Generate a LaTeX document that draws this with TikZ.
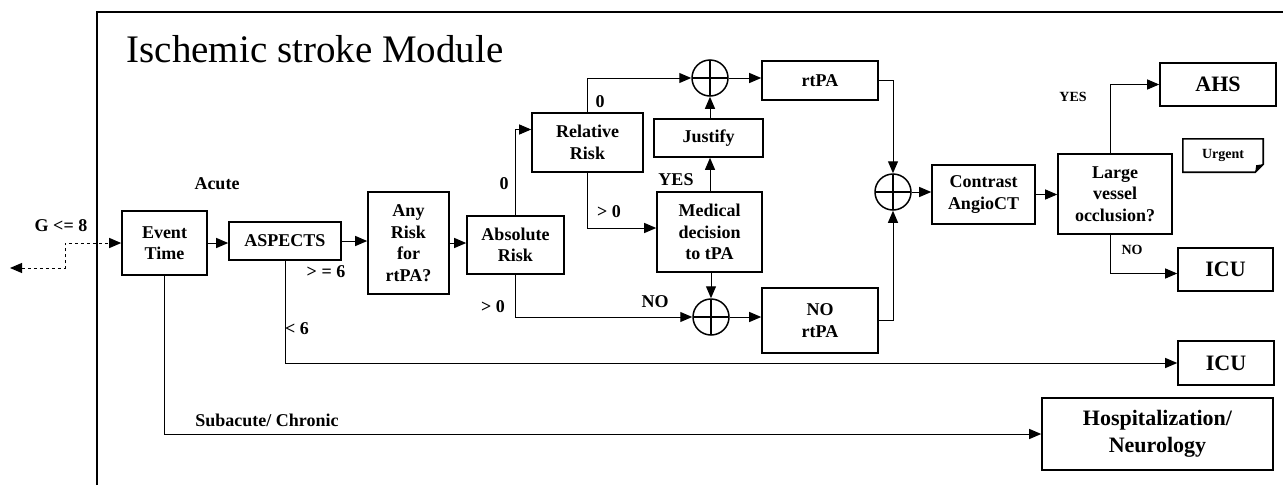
\documentclass[tikz,border=0pt]{standalone}
\usepackage{fontspec}
\setmainfont{Liberation Serif}
\usetikzlibrary{positioning,arrows.meta}

\begin{document}
\begin{tikzpicture}[x=1pt,y=-1pt,>={Triangle[length=12pt,width=10pt]},
  box/.style={draw,line width=1.6pt,align=center,inner sep=1pt,font=\bfseries\fontsize{18}{21.5}\selectfont},
  bigbox/.style={box,font=\bfseries\fontsize{22}{27}\selectfont},
  lbl/.style={font=\bfseries\fontsize{18}{21}\selectfont},
  sml/.style={font=\bfseries\fontsize{14}{16}\selectfont},
  sum/.style={draw,circle,line width=1.5pt,minimum size=36pt,inner sep=0pt,
    path picture={\draw[line width=1.5pt] (path picture bounding box.north) -- (path picture bounding box.south)
      (path picture bounding box.west) -- (path picture bounding box.east);}},
  link/.style={->,line width=1pt}]
\useasboundingbox (0,0) rectangle (1283,485);
\draw[line width=1.6pt] (97,485) -- (97,12) -- (1283,12);
\node (title) [anchor=base west,font=\fontsize{39}{40}\selectfont] at (123,62) {Ischemic stroke Module};

\node (evt) [box,minimum width=85pt,minimum height=64pt] at (164.5,243) {Event\\Time};
\node (asp) [box,minimum width=112pt,minimum height=38pt] at (285,241) {ASPECTS};
\node (anyr) [box,minimum width=81pt,minimum height=102pt] at (408.5,243) {Any\\Risk\\for\\rtPA?};
\node (absr) [box,minimum width=97pt,minimum height=58pt] at (515.5,245) {Absolute\\Risk};
\node (relr) [box,minimum width=111pt,minimum height=59pt] at (587.5,142.5) {Relative\\Risk};
\node (just) [box,minimum width=109pt,minimum height=38pt] at (708.5,138) {Justify};
\node (med) [box,minimum width=105pt,minimum height=80pt] at (709.5,232) {Medical\\decision\\to tPA};
\node (ptop) [sum] at (710,78) {};
\node (pbot) [sum] at (711,317) {};
\node (rtpa) [box,minimum width=116pt,minimum height=39pt] at (820,80.5) {rtPA};
\node (nortpa) [box,minimum width=116pt,minimum height=65pt] at (820,320.5) {NO\\rtPA};
\node (pright) [sum] at (893,192) {};
\node (cta) [box,minimum width=103pt,minimum height=59pt] at (983.5,194.5) {Contrast\\AngioCT};
\node (lvo) [box,minimum width=114pt,minimum height=80pt] at (1115,194) {Large\\vessel\\occlusion?};
\node (ahs) [bigbox,minimum width=116pt,minimum height=43pt] at (1218,84.5) {AHS};
\node (urg) [sml,minimum width=80pt,minimum height=33pt] at (1223,155.5) {Urgent};
\node (icua) [bigbox,minimum width=95pt,minimum height=43pt] at (1225.5,269.5) {ICU};
\node (icub) [bigbox,minimum width=96pt,minimum height=44pt] at (1226,363) {ICU};
\node (hosp) [bigbox,minimum width=231pt,minimum height=72pt] at (1157.5,434) {Hospitalization/\\Neurology};

\draw[line width=1.6pt] (urg.north west) -- (urg.north east) -- ([yshift=8pt]urg.south east)
  -- ([xshift=-8pt]urg.south east) -- (urg.south west) -- cycle;
\fill ([yshift=8pt]urg.south east) -- ([xshift=-8pt]urg.south east) -- ([xshift=-7pt,yshift=7pt]urg.south east) -- cycle;

\node (acute) [lbl] at (217,184) {Acute};
\node (glim) [lbl] at (61,226) {G <= 8};
\node (ge6) [lbl] at (326,272) {> = 6};
\node (lt6) [lbl] at (297,329) {< 6};
\node (zabs) [lbl] at (504,184) {0};
\node (zrel) [lbl] at (600,102) {0};
\node (gtrel) [lbl] at (609,212) {> 0};
\node (gtabs) [lbl] at (493,307) {> 0};
\node (yesmed) [lbl] at (676,180) {YES};
\node (nomed) [lbl] at (655,302) {NO};
\node (yeslvo) [sml] at (1073,97) {YES};
\node (nolvo) [sml] at (1132,250) {NO};
\node (subac) [lbl] at (267,420) {Subacute/ Chronic};

\coordinate (gbend) at (65,243);
\coordinate (gout) at (10,268);
\draw[link,<->,dashed] (gout) -| (gbend) -- (evt.west);
\draw[link] (evt.east) -- (evt.east -| asp.west);
\draw[link] (asp.east) -- (asp.east -| anyr.west);
\draw[link] (anyr.east) -- (anyr.east -| absr.west);
\draw[link] (absr.north) |- ([yshift=13pt]relr.west);
\draw[link] (absr.south) |- (pbot.west);
\draw[link] (relr.north) |- (ptop.west);
\draw[link] (relr.south) |- ([yshift=4pt]med.west);
\draw[link] (med.north -| ptop) -- (just.south -| ptop);
\draw[link] (just.north -| ptop) -- (ptop.south);
\draw[link] (med.south -| pbot) -- (pbot.north);
\draw[link] (ptop.east) -- (ptop.east -| rtpa.west);
\draw[link] (pbot.east) -- (pbot.east -| nortpa.west);
\draw[link] (rtpa.east) -| (pright.north);
\draw[link] (nortpa.east) -| (pright.south);
\draw[link] (pright.east) -- (pright.east -| cta.west);
\draw[link] (cta.east) -- (cta.east -| lvo.west);
\draw[link] ([xshift=-5pt]lvo.north) |- (ahs.west);
\draw[link] ([xshift=-5pt]lvo.south) |- ([yshift=-4pt]icua.west);
\draw[link] (asp.south) |- (icub.west);
\draw[link] (evt.south) |- (hosp.west);
\end{tikzpicture}
\end{document}
